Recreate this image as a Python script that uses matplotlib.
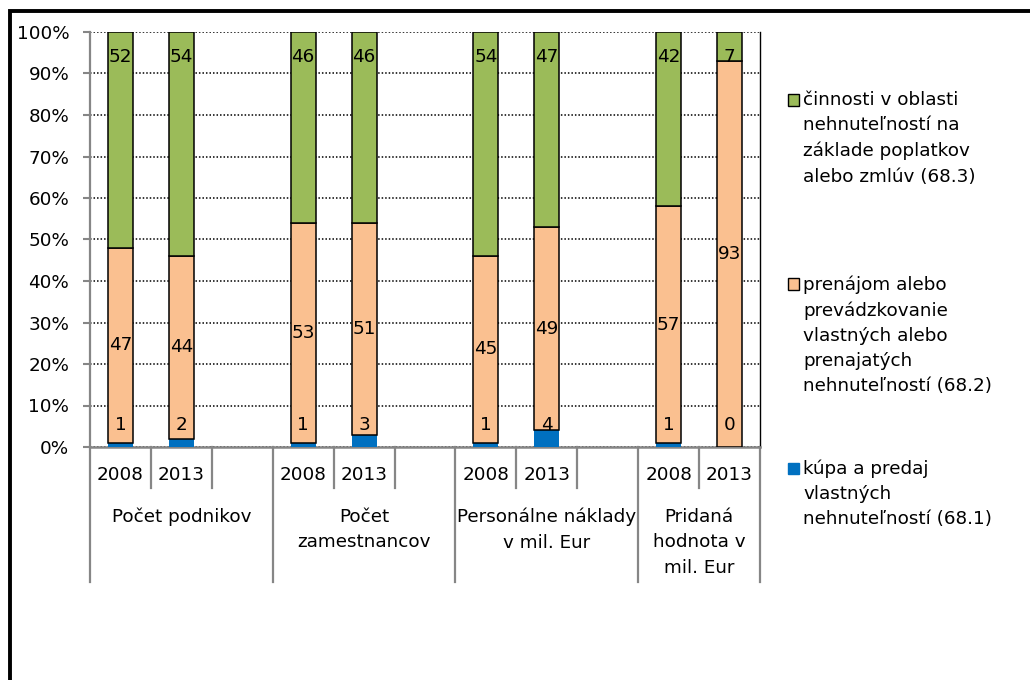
import matplotlib.pyplot as plt
from matplotlib.patches import Rectangle
from matplotlib.transforms import blended_transform_factory

# Data (shares in %)
groups = ["Počet podnikov", "Počet\nzamestnancov",
          "Personálne náklady\nv mil. Eur", "Pridaná\nhodnota v\nmil. Eur"]
years = ["2008", "2013"]
kupa = [1, 2, 1, 3, 1, 4, 1, 0]              # 68.1
prenajom = [47, 44, 53, 51, 45, 49, 57, 93]  # 68.2
cinnosti = [52, 54, 46, 46, 54, 47, 42, 7]   # 68.3

series_labels = [
    "kúpa a predaj\nvlastných\nnehnuteľností (68.1)",
    "prenájom alebo\nprevádzkovanie\nvlastných alebo\nprenajatých\nnehnuteľností (68.2)",
    "činnosti v oblasti\nnehnuteľností na\nzáklade poplatkov\nalebo zmlúv (68.3)",
]
colors = ["#0070C0", "#FAC090", "#9BBB59"]

FS = 13.2
LS = 1.52
plt.rcParams.update({"font.family": "DejaVu Sans", "font.size": FS})

W, H = 1030, 680
fig = plt.figure(figsize=(W / 100, H / 100), dpi=100)
ax = fig.add_axes([90 / W, 1 - 447 / H, 670 / W, 415 / H])

# slot layout: 3 slots per group, last group only 2
slots_per_group = [3, 3, 3, 2]
starts = [0, 3, 6, 9]
xpos = [starts[g] + j for g in range(4) for j in range(2)]
n_slots = sum(slots_per_group)

bw = 0.41
totals = [k + p + c for k, p, c in zip(kupa, prenajom, cinnosti)]
kupa_tot = [k / t * 100 for k, t in zip(kupa, totals)]
pren_tot = [p / t * 100 for p, t in zip(prenajom, totals)]
cin_tot = [c / t * 100 for c, t in zip(cinnosti, totals)]
bottom2 = [a + b for a, b in zip(kupa_tot, pren_tot)]

ax.bar(xpos, kupa_tot, bw, color=colors[0], linewidth=0, zorder=3)
ax.bar(xpos, pren_tot, bw, bottom=kupa_tot, color=colors[1],
       edgecolor="black", linewidth=1.1, zorder=3)
ax.bar(xpos, cin_tot, bw, bottom=bottom2, color=colors[2],
       edgecolor="black", linewidth=1.1, zorder=3)

# data labels
for i, x in enumerate(xpos):
    ax.text(x, 5.3, str(kupa[i]), ha="center", va="center", fontsize=FS, zorder=5)
    ax.text(x, kupa_tot[i] + pren_tot[i] / 2, str(prenajom[i]),
            ha="center", va="center", fontsize=FS, zorder=5)
    ax.text(x, 94, str(cinnosti[i]), ha="center", va="center",
            fontsize=FS, zorder=5)

ax.set_xlim(-0.5, n_slots - 0.5)
ax.set_ylim(0, 100)
ax.set_yticks(range(0, 101, 10))
ax.set_yticklabels([f"{v}%" for v in range(0, 101, 10)])
ax.tick_params(axis="y", length=5, width=1.5, color="#868686", pad=10,
               labelsize=FS)
ax.set_xticks([])
ax.grid(axis="y", color="black", linestyle=(0, (1, 1.3)), linewidth=1.1,
        zorder=1)
ax.set_axisbelow(True)
ax.spines["top"].set_visible(False)
ax.spines["left"].set_color("#868686")
ax.spines["left"].set_linewidth(1.6)
ax.spines["bottom"].set_color("#868686")
ax.spines["bottom"].set_linewidth(1.8)
ax.spines["right"].set_color("black")
ax.spines["right"].set_linewidth(1.0)

# multi-level category axis
tr = blended_transform_factory(ax.transData, ax.transAxes)
y_short = -(488 - 447) / 415
y_long = -(582 - 447) / 415
group_edges = [-0.5]
for n in slots_per_group:
    group_edges.append(group_edges[-1] + n)
for b in range(n_slots + 1):
    xb = b - 0.5
    yb = y_long if xb in group_edges else y_short
    ax.plot([xb, xb], [0, yb], color="#868686", lw=1.6, transform=tr,
            clip_on=False, zorder=2)

for i, x in enumerate(xpos):
    ax.text(x, -(475 - 447) / 415, years[i % 2], transform=tr,
            ha="center", va="center", fontsize=FS)
for g, name in enumerate(groups):
    cx = (group_edges[g] + group_edges[g + 1]) / 2
    ax.text(cx, -(508 - 447) / 415, name, transform=tr, ha="center",
            va="top", fontsize=FS, linespacing=LS)

# legend (Excel style, reversed order, first line aligned with marker)
leg_y = [100, 284, 468]
for k, yy in zip([2, 1, 0], leg_y):
    ec = "black" if k > 0 else colors[0]
    fig.patches.append(Rectangle((788 / W, 1 - (yy + 5.5) / H), 11 / W, 11 / H,
                                 transform=fig.transFigure, facecolor=colors[k],
                                 edgecolor=ec, linewidth=1.0))
    fig.text(803 / W, 1 - (yy - 9) / H, series_labels[k], ha="left", va="top",
             fontsize=FS, linespacing=LS)

# outer frame (left and top edge visible)
fig.patches.append(Rectangle((10.3 / W, -0.5), 2, 1.5 - 11 / H,
                             transform=fig.transFigure, fill=False,
                             edgecolor="black", linewidth=2.8, clip_on=False))

fig.savefig("out.png", dpi=100)
